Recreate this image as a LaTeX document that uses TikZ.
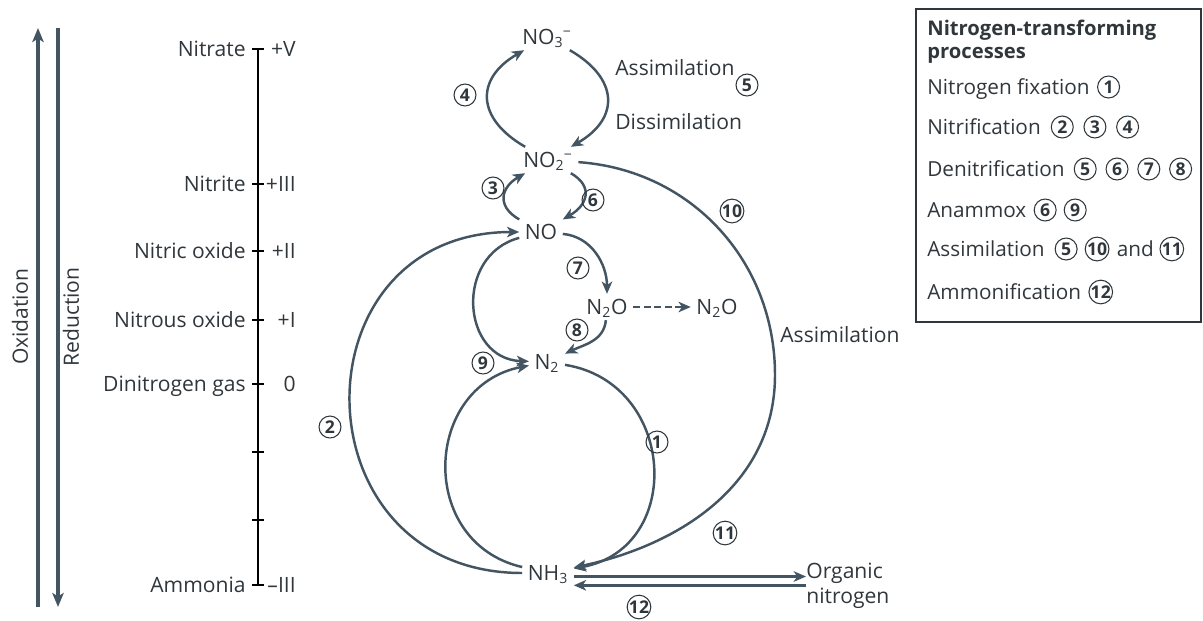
\documentclass[tikz,border=0pt]{standalone}
\usepackage{fontspec}
\setmainfont{Open Sans}
\usetikzlibrary{arrows.meta,positioning}
\definecolor{flowgray}{HTML}{435562}
\definecolor{inkgray}{HTML}{30373c}
\newcommand{\ion}[2]{\textsubscript{#1}\kern-0.4pt\textsuperscript{#2}}
\begin{document}
\begin{tikzpicture}[x=0.02cm,y=0.02cm,
  font=\fontsize{12}{14}\selectfont, text=inkgray,
  flow/.style={draw=flowgray,line width=1.4pt,-{Stealth[length=7pt,width=6pt,inset=2pt]}},
  axisarrow/.style={draw=flowgray,line width=1.8pt,-{Stealth[length=8pt,width=6.5pt,inset=2pt]}},
  chem/.style={inner sep=3pt,text height=8.6pt,text depth=0pt},
  num/.style={circle,draw=inkgray,line width=0.6pt,inner sep=0pt,minimum size=12.5pt,
    font=\fontsize{10}{10}\selectfont\bfseries},
  scalelabel/.style={anchor=east,inner sep=0pt,text height=8.6pt,text depth=0pt},
  legtext/.style={anchor=west,inner sep=0pt,text height=8.4pt,text depth=0pt,
    font=\fontsize{11.8}{13}\selectfont},
  note/.style={anchor=west,inner sep=0pt,text height=8.6pt,text depth=0pt}
]
\useasboundingbox (0,0) rectangle (1203,-620);

% oxidation state scale
\coordinate (oxlo) at (38,-607);
\coordinate (oxhi) at (38,-28);
\coordinate (redhi) at (58,-28);
\coordinate (redlo) at (58,-607);
\draw[axisarrow] (oxlo) -- (oxhi);
\draw[axisarrow] (redhi) -- (redlo);
\node[rotate=90] (oxlab) at (20,-317) {Oxidation};
\node[rotate=90] (redlab) at (71,-317) {Reduction};
\draw[line width=0.7pt] (258,-49) -- (258,-585);
\foreach \y/\species/\state in {49/Nitrate/+V,184/Nitrite/+III,251/Nitric oxide/+II,
    320/Nitrous oxide/+I,384/Dinitrogen gas/0,452//,520//,585/Ammonia/--III}{
  \draw[line width=0.7pt] (252,-\y) -- (264,-\y);
  \node[scalelabel] at (246,-\y) {\species};
  \node[scalelabel] at (296,-\y) {\state};
}

% nitrogen species
\node[chem] (no3) at (547,-37) {NO\ion{3}{−}};
\node[chem] (no2) at (548,-160) {NO\ion{2}{−}};
\node[chem] (no) at (541,-232) {NO};
\node[chem] (n2o) at (607,-307) {N\textsubscript{2}O};
\node[chem] (n2oout) at (717,-307) {N\textsubscript{2}O};
\node[chem] (n2) at (547,-362) {N\textsubscript{2}};
\node[chem] (nh3) at (548,-573) {NH\textsubscript{3}};
\node[anchor=west,align=left,inner sep=0pt] (orgn) at (806,-586) {Organic\\nitrogen};
\coordinate (assimturn) at (775,-375);

% transformations
\draw[flow] (no2) to[out=150,in=210,looseness=1.5] (no3);
\draw[flow] (no3) to[out=-30,in=30,looseness=1.5] (no2);
\draw[flow] (no) to[out=150,in=210,looseness=1.5] (no2);
\draw[flow] (no2) to[out=-30,in=30,looseness=1.5] (no);
\draw[flow] (no) to[out=195,in=178,looseness=1.4] (n2);
\draw[flow] (no) to[out=-5,in=90,looseness=1] (n2o);
\draw[flow,line width=1.1pt,dash pattern=on 4pt off 2pt] (n2o) -- (n2oout);
\draw[flow] (n2o) to[out=-95,in=25,looseness=1] (n2);
\draw[flow] (nh3) to[out=167,in=191,looseness=1.37] (n2);
\draw[flow] (n2) to[out=-9,in=10,looseness=1.42] (nh3);
\draw[flow] (nh3) to[out=180,in=180,looseness=1.7] (no);
\draw[flow] (no2) to[out=-4,in=90] (assimturn) to[out=-90,in=12] (nh3);
\draw[flow] ([yshift=-2pt]nh3.east) -- ([yshift=-2pt]nh3.east -| orgn.west);
\draw[flow] ([yshift=-7pt]nh3.east -| orgn.west) -- ([yshift=-7pt]nh3.east);

% process labels
\node[num] (p1) at (657,-442) {1};
\node[num] (p2) at (330,-427) {2};
\node[num] (p3) at (493,-188) {3};
\node[num] (p4) at (465,-95) {4};
\node[num] (p5) at (747,-85) {5};
\node[num] (p6) at (593,-200) {6};
\node[num] (p7) at (578,-268) {7};
\node[num] (p8) at (577,-330) {8};
\node[num] (p9) at (483,-363) {9};
\node[num] (p10) at (732,-211) {10};
\node[num] (p11) at (725,-533) {11};
\node[num] (p12) at (639,-607) {12};
\node[note] (assimtop) at (615,-68) {Assimilation};
\node[note] (dissim) at (615,-122) {Dissimilation};
\node[note] (assimbig) at (780,-335) {Assimilation};

% legend
\draw[draw=inkgray,line width=1.1pt] (916,-9) rectangle (1201,-322);
\node[anchor=west,align=left,inner sep=0pt,font=\fontsize{11.5}{13}\selectfont\bfseries]
  (legtitle) at (927,-42) {Nitrogen-transforming\\processes};
\node[legtext] (fixation) at (927,-87) {Nitrogen fixation};
\node[num,right=4pt of fixation] (fix1) {1};
\node[legtext] (nitrif) at (927,-127) {Nitrification};
\node[num,right=5.5pt of nitrif] (nitrif2) {2};
\node[num,right=5.5pt of nitrif2] (nitrif3) {3};
\node[num,right=5.5pt of nitrif3] (nitrif4) {4};
\node[legtext] (denitrif) at (927,-169) {Denitrification};
\node[num,right=5pt of denitrif] (denitrif5) {5};
\node[num,right=5pt of denitrif5] (denitrif6) {6};
\node[num,right=5pt of denitrif6] (denitrif7) {7};
\node[num,right=5pt of denitrif7] (denitrif8) {8};
\node[legtext] (anammox) at (927,-210) {Anammox};
\node[num,right=4pt of anammox] (anammox6) {6};
\node[num,right=4pt of anammox6] (anammox9) {9};
\node[legtext] (assim) at (927,-249) {Assimilation};
\node[num,right=5.5pt of assim] (assim5) {5};
\node[num,right=4pt of assim5] (assim10) {10};
\node[legtext,right=4pt of assim10] (assimand) {and};
\node[num,right=3pt of assimand] (assim11) {11};
\node[legtext] (ammonif) at (927,-292) {Ammonification};
\node[num,right=4pt of ammonif] (ammonif12) {12};
\end{tikzpicture}
\end{document}
